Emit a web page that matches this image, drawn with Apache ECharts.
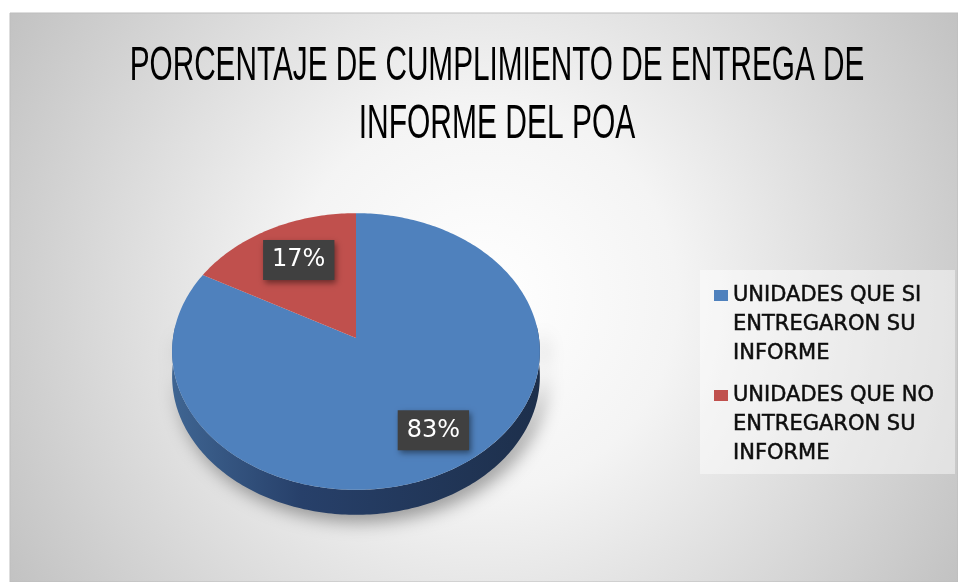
<!DOCTYPE html>
<html>
<head>
<meta charset="utf-8">
<script src="https://cdn.jsdelivr.net/npm/echarts@6/dist/echarts.min.js"></script>
<style>
  html, body { margin: 0; padding: 0; background: #ffffff; }
  #main { width: 958px; height: 582px; }
</style>
</head>
<body>
<div id="main"></div>
<script>
// datos del grafico
const categories = ['UNIDADES QUE SI\nENTREGARON SU\nINFORME', 'UNIDADES QUE NO\nENTREGARON SU\nINFORME'];
const values = [83, 17];
const titleLines = ['PORCENTAJE DE CUMPLIMIENTO DE ENTREGA DE', 'INFORME DEL POA'];

// geometria del pastel "3D" (elipse con algo de perspectiva)
const PIE = { cx: 356, cy: 338, rx: 183, ry: 137, k: 0.0975, depth: 25 };
const total = values.reduce((a, b) => a + b, 0);

function project(phi, r, dy) {
  const a = phi * Math.PI / 180;
  const u = r * Math.sin(a);
  const v = -r * Math.cos(a);
  const w = 1 - PIE.k * v;
  return [PIE.cx + PIE.rx * u / w, PIE.cy + PIE.ry * v / w + (dy || 0)];
}

function arc(from, to, dy) {
  const pts = [];
  const n = Math.max(2, Math.ceil(Math.abs(to - from)));
  for (let i = 0; i <= n; i++) {
    pts.push(project(from + (to - from) * i / n, 1, dy));
  }
  return pts;
}

function renderSlice(params, api) {
  const idx = params.seriesIndex;
  let before = 0;
  for (let i = 0; i < idx; i++) before += values[i];
  const start = before / total * 360;
  const end = (before + values[idx]) / total * 360;
  const children = [];

  // cara lateral visible (solo la parte delantera)
  const a = Math.max(start, 84.4);
  const b = Math.min(end, 275.6);
  if (b > a) {
    const top = arc(a, b, 0);
    const bottom = arc(b, a, PIE.depth);
    children.push({
      type: 'polygon',
      shape: { points: top.concat(bottom) },
      style: {
        fill: {
          type: 'linear', x: 0, y: 0, x2: 1, y2: 0,
          colorStops: [
            { offset: 0, color: '#3f6592' },
            { offset: 0.35, color: '#27406a' },
            { offset: 1, color: '#1d2f4b' }
          ]
        },
        shadowBlur: 18,
        shadowColor: 'rgba(0,0,0,0.38)',
        shadowOffsetX: 5,
        shadowOffsetY: 7
      }
    });
  }

  // cara superior
  children.push({
    type: 'polygon',
    shape: { points: [project(0, 0)].concat(arc(start, end, 0)) },
    style: { fill: api.visual('color') }
  });

  // etiqueta de porcentaje
  const pos = project((start + end) / 2, 0.72);
  children.push({
    type: 'text',
    x: pos[0] + 6,
    y: pos[1] + 2,
    z2: 10,
    style: {
      text: api.value(0) + '%',
      fill: '#ffffff',
      font: '24px "DejaVu Sans"',
      align: 'center',
      verticalAlign: 'middle',
      backgroundColor: '#404040',
      padding: [8, 9, 8, 9],
      shadowBlur: 6,
      shadowColor: 'rgba(0,0,0,0.45)',
      shadowOffsetX: 2,
      shadowOffsetY: 3
    }
  });

  return { type: 'group', children: children };
}

const chart = echarts.init(document.getElementById('main'), null, { renderer: 'canvas' });

const option = {
  animation: false,
  graphic: [
    {
      type: 'rect',
      z: -10,
      silent: true,
      shape: { x: 10, y: 13, width: 948, height: 569 },
      style: {
        fill: {
          type: 'radial', x: 0.5, y: 0.5, r: 0.97,
          colorStops: [
            { offset: 0, color: '#ffffff' },
            { offset: 0.35, color: '#f4f4f4' },
            { offset: 1, color: '#c2c2c2' }
          ]
        },
        stroke: '#bdbdbd',
        lineWidth: 1
      }
    },
    {
      type: 'rect',
      z: -5,
      silent: true,
      shape: { x: 700, y: 270, width: 255, height: 204 },
      style: { fill: 'rgba(255,255,255,0.45)' }
    },
    {
      type: 'text',
      z: 10,
      x: 497, y: 67, scaleX: 0.62,
      style: {
        text: titleLines[0],
        font: '48px "Liberation Sans"',
        fill: '#000000',
        align: 'center',
        verticalAlign: 'middle'
      }
    },
    {
      type: 'text',
      z: 10,
      x: 497, y: 125, scaleX: 0.625,
      style: {
        text: titleLines[1],
        font: '48px "Liberation Sans"',
        fill: '#000000',
        align: 'center',
        verticalAlign: 'middle'
      }
    }
  ],
  legend: {
    orient: 'vertical',
    left: 714,
    top: 223,
    padding: 0,
    icon: 'rect',
    itemWidth: 14,
    itemHeight: 11,
    itemGap: -45,
    selectedMode: false,
    // dos lineas vacias arriba para que el icono quede junto a la primera linea
    formatter: function (name) { return '\n\n' + name; },
    textStyle: {
      fontFamily: 'DejaVu Sans',
      fontSize: 21,
      lineHeight: 29,
      color: '#0d0d0d',
      textBorderColor: '#0d0d0d',
      textBorderWidth: 0.5
    },
    data: categories
  },
  series: [
    {
      type: 'custom',
      name: categories[0],
      coordinateSystem: 'none',
      silent: true,
      itemStyle: { color: '#4f81bd' },
      renderItem: renderSlice,
      data: [values[0]]
    },
    {
      type: 'custom',
      name: categories[1],
      coordinateSystem: 'none',
      silent: true,
      itemStyle: { color: '#c0504d' },
      renderItem: renderSlice,
      data: [values[1]]
    }
  ]
};

chart.setOption(option);
</script>
</body>
</html>
